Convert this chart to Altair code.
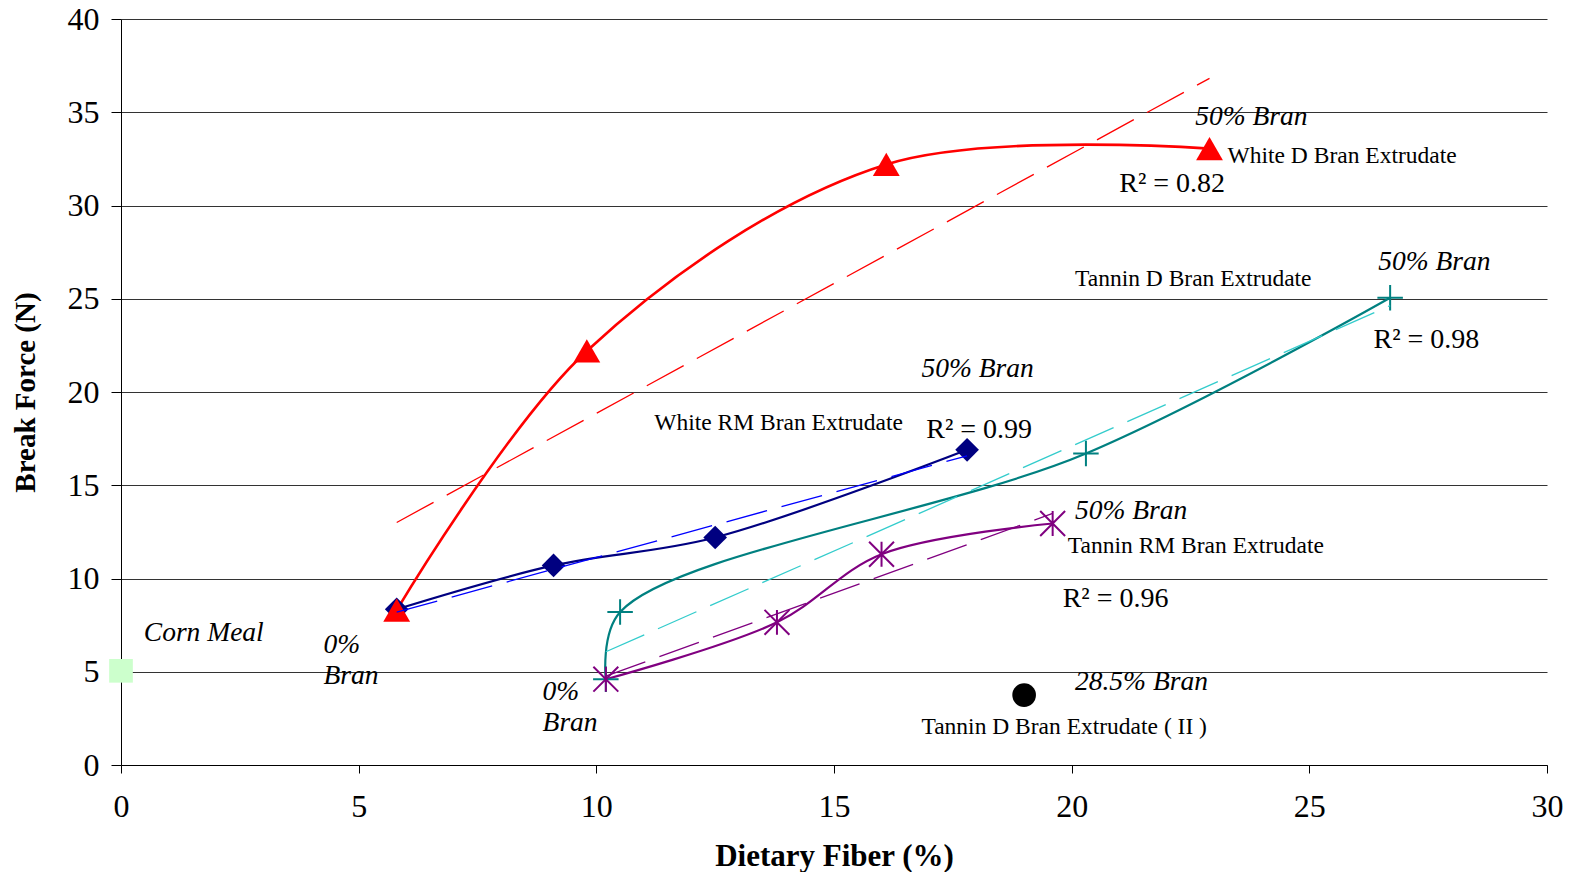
import altair as alt
import pandas as pd

# Dietary fibre (%) and break force (N) for each extrudate, from 0% to 50% bran
white_rm_fiber = [5.8, 9.1, 12.5, 17.8]
white_rm_force = [8.35, 10.7, 12.2, 16.9]

white_d_fiber = [5.8, 9.8, 16.1, 22.9]
white_d_force = [8.3, 22.2, 32.2, 33.05]

tannin_d_fiber = [10.2, 10.5, 20.3, 26.7]
tannin_d_force = [4.6, 8.2, 16.7, 25.05]

tannin_rm_fiber = [10.2, 13.8, 16.0, 19.6]
tannin_rm_force = [4.6, 7.65, 11.3, 12.95]

corn_meal_fiber = [0.0]
corn_meal_force = [5.05]

tannin_d2_fiber = [19.0]
tannin_d2_force = [3.75]

series_names = ["White RM", "White D", "Tannin D", "Tannin RM"]
series_colors = ["#000080", "#FF0000", "#008080", "#800080"]
trend_colors = ["#0000FF", "#FF0000", "#33CCCC", "#800080"]

SERIF = "Liberation Serif"

frames = {
    "White RM": pd.DataFrame({"fiber": white_rm_fiber, "force": white_rm_force}),
    "White D": pd.DataFrame({"fiber": white_d_fiber, "force": white_d_force}),
    "Tannin D": pd.DataFrame({"fiber": tannin_d_fiber, "force": tannin_d_force}),
    "Tannin RM": pd.DataFrame({"fiber": tannin_rm_fiber, "force": tannin_rm_force}),
}
corn = pd.DataFrame({"fiber": corn_meal_fiber, "force": corn_meal_force})
tannin_d2 = pd.DataFrame({"fiber": tannin_d2_fiber, "force": tannin_d2_force})

# Annotations placed in data coordinates
italic_notes = pd.DataFrame({
    "text": ["Corn Meal", "0%", "Bran", "0%", "Bran", "50% Bran", "50% Bran",
             "50% Bran", "50% Bran", "28.5% Bran"],
    "x": [0.48, 4.26, 4.26, 8.87, 8.87, 22.6, 26.45, 16.84, 20.07, 20.07],
    "y": [7.1, 6.45, 4.78, 3.92, 2.25, 34.76, 26.98, 21.25, 13.64, 4.46],
})
name_notes = pd.DataFrame({
    "text": ["White D Bran Extrudate", "Tannin D Bran Extrudate",
             "White RM Bran Extrudate", "Tannin RM Bran Extrudate",
             "Tannin D Bran Extrudate ( II )"],
    "x": [23.28, 20.07, 11.22, 19.92, 16.84],
    "y": [32.65, 26.06, 18.34, 11.73, 2.03],
})
r2_notes = pd.DataFrame({
    "text": ["R\u00b2 = 0.82", "R\u00b2 = 0.98", "R\u00b2 = 0.99", "R\u00b2 = 0.96"],
    "x": [21.0, 26.35, 16.94, 19.81],
    "y": [31.14, 22.77, 17.96, 8.88],
})

x_enc = alt.X(
    "fiber:Q",
    scale=alt.Scale(domain=[0, 30], nice=False, zero=False),
    axis=alt.Axis(
        values=[0, 5, 10, 15, 20, 25, 30], grid=False,
        domainColor="black", tickColor="black", tickSize=8,
        labelFont=SERIF, labelFontSize=32, labelPadding=18, labelColor="black",
        labelFlush=False,
        title="Dietary Fiber (%)", titleFont=SERIF, titleFontSize=31,
        titleFontWeight="bold", titleColor="black",
        titleY=91, titleBaseline="middle",
    ),
)
y_enc = alt.Y(
    "force:Q",
    scale=alt.Scale(domain=[0, 40], nice=False, zero=False),
    axis=alt.Axis(
        values=[0, 5, 10, 15, 20, 25, 30, 35, 40], grid=True,
        gridColor="#333333", gridWidth=1, gridOpacity=1,
        domainColor="black", tickColor="black", tickSize=10,
        labelFont=SERIF, labelFontSize=32, labelPadding=12, labelColor="black",
        labelFlush=False,
        title="Break Force (N)", titleFont=SERIF, titleFontSize=29,
        titleFontWeight="bold", titleColor="black",
        titleX=-96, titleY=373, titleAngle=270, titleBaseline="middle",
        titleAlign="center",
    ),
)


def text_x(field):
    return alt.X(f"{field}:Q", scale=alt.Scale(domain=[0, 30], nice=False, zero=False))


def text_y(field):
    return alt.Y(f"{field}:Q", scale=alt.Scale(domain=[0, 40], nice=False, zero=False))


markers = {
    "White RM": dict(shape="diamond", filled=True, size=560),
    "White D": dict(shape="triangle-up", filled=True, size=720),
    "Tannin D": dict(shape="M-1,0L1,0M0,-1L0,1", filled=False, size=650, strokeWidth=2),
    "Tannin RM": dict(shape="M-1,-1L1,1M-1,1L1,-1M0,-1L0,1", filled=False, size=620,
                      strokeWidth=2),
}

curve_layers = []
mark_layers = []
trend_layers = []
for name, col, tcol in zip(series_names, series_colors, trend_colors):
    df = frames[name]
    base = alt.Chart(df).encode(x=x_enc, y=y_enc)
    curve_layers.append(
        base.mark_line(interpolate="catmull-rom", color=col,
                       strokeWidth=2.6 if name == "White D" else 2.2)
    )
    mark_layers.append(
        base.mark_point(color=col, opacity=1, **markers[name])
    )
    trend_layers.append(
        alt.Chart(df).transform_regression("fiber", "force").mark_line(
            color=tcol, strokeWidth=1.3, strokeDash=[42, 15]
        ).encode(x=x_enc, y=y_enc)
    )

corn_layer = alt.Chart(corn).mark_point(
    shape="square", filled=True, color="#CCFFCC", size=560, opacity=1
).encode(x=x_enc, y=y_enc)

d2_layer = alt.Chart(tannin_d2).mark_point(
    shape="circle", filled=True, color="black", size=560, opacity=1
).encode(x=x_enc, y=y_enc)

italic_layer = alt.Chart(italic_notes).mark_text(
    font=SERIF, fontSize=27.5, fontStyle="italic", align="left", baseline="middle",
    color="black"
).encode(x=text_x("x"), y=text_y("y"), text="text:N")

name_layer = alt.Chart(name_notes).mark_text(
    font=SERIF, fontSize=23.5, align="left", baseline="middle", color="black"
).encode(x=text_x("x"), y=text_y("y"), text="text:N")

r2_layer = alt.Chart(r2_notes).mark_text(
    font=SERIF, fontSize=28, align="left", baseline="middle", color="black"
).encode(x=text_x("x"), y=text_y("y"), text="text:N")

chart = alt.layer(
    *curve_layers, corn_layer, d2_layer, *mark_layers, *trend_layers,
    italic_layer, name_layer, r2_layer,
).properties(
    width=1426,
    height=746,
    autosize=alt.AutoSizeParams(type="none"),
    padding={"left": 121, "top": 19, "right": 28, "bottom": 107},
    background="white",
).configure_view(stroke=None)

chart.save("out.html", embed_options={"renderer": "svg", "actions": False})
